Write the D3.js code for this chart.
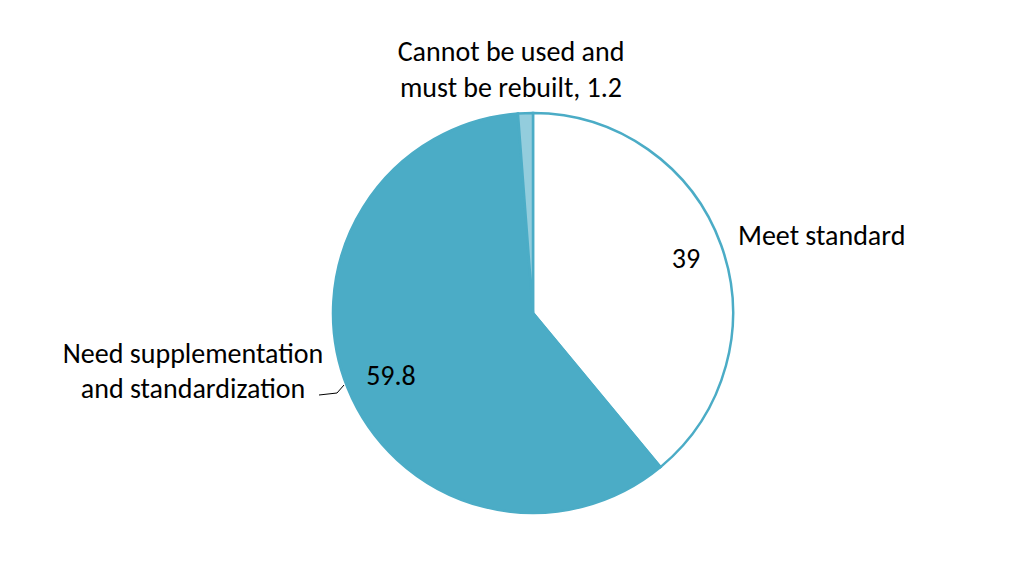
<!DOCTYPE html>
<html><head><meta charset="utf-8">
<script src="https://cdn.jsdelivr.net/npm/d3@7"></script>
<style>body{margin:0;background:#fff}svg{display:block}text{font-family:Carlito,Calibri,"Liberation Sans",sans-serif;fill:#000}</style>
</head><body>
<svg id="chart" width="1024" height="567"></svg>
<script>
// data
const categories = ['Meet standard', 'Need supplementation and standardization', 'Cannot be used and must be rebuilt'];
const values = [39, 59.8, 1.2];
const colors = ['#ffffff', '#4bacc6', '#93cddd'];

const svg = d3.select('#chart');
const cx = 533, cy = 313, r = 200;
const fs = 28;
const g = svg.append('g').attr('transform', `translate(${cx},${cy})`);

const pie = d3.pie().sort(null).value(d => d)(values);
const arc = d3.arc().innerRadius(0).outerRadius(r);

g.selectAll('path').data(pie).enter().append('path')
    .attr('d', arc)
    .attr('fill', (d, i) => colors[i])
    .attr('stroke', '#4bacc6')
    .attr('stroke-width', 2.5);

// value labels inside
g.append('text').attr('x', 153).attr('y', -45).attr('font-size', fs).attr('text-anchor', 'middle').text(values[0]);
g.append('text').attr('x', -142).attr('y', 72).attr('font-size', fs).attr('text-anchor', 'middle').text(values[1]);

// category labels
svg.append('text').attr('x', 738).attr('y', 245).attr('font-size', fs).text(categories[0]);
const t2 = svg.append('text').attr('font-size', fs).attr('text-anchor', 'middle');
t2.append('tspan').attr('x', 193).attr('y', 363).text('Need supplementation');
t2.append('tspan').attr('x', 193).attr('y', 398).text('and standardization');
svg.append('path').attr('d', 'M319,395 L337,393 L344,385').attr('fill', 'none').attr('stroke', '#000').attr('stroke-width', 1);
const t3 = svg.append('text').attr('font-size', fs).attr('text-anchor', 'middle');
t3.append('tspan').attr('x', 511).attr('y', 61).text('Cannot be used and');
t3.append('tspan').attr('x', 511).attr('y', 97).text('must be rebuilt, ' + values[2]);
</script>
</body></html>
